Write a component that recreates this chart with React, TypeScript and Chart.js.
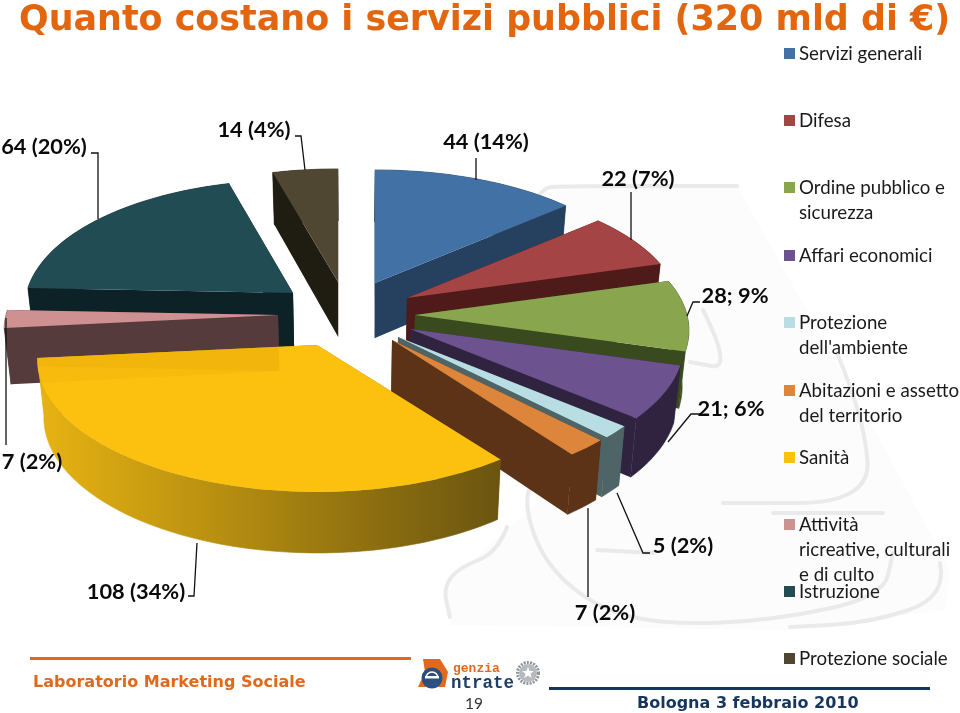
import React, { useEffect, useRef } from "react";
import { Chart, registerables } from "chart.js";

Chart.register(...registerables);

// ---- data ----
const categories = [
  "Servizi generali", "Difesa", "Ordine pubblico e sicurezza", "Affari economici",
  "Protezione dell'ambiente", "Abitazioni e assetto del territorio", "Sanità",
  "Attività ricreative, culturali e di culto", "Istruzione", "Protezione sociale",
];
const values = [44, 22, 28, 21, 5, 7, 108, 7, 64, 14];
const valueLabels = ["44 (14%)", "22 (7%)", "28; 9%", "21; 6%", "5 (2%)", "7 (2%)", "108 (34%)", "7 (2%)", "64 (20%)", "14 (4%)"];
const topColors = ["#4271A6", "#A54444", "#89A64F", "#6D5290", "#B8DEE3", "#DD853B", "#FCC10F", "#CF9092", "#224C53", "#4F4731"];
const wallColors = ["#26415F", "#4F1A1A", "#3A4A1F", "#2F2340", "#4E6466", "#5C3317", "#B08A10", "#553B3C", "#0D2226", "#1F1C11"];

// ---- layout (not data) ----
const legendLines = [
  ["Servizi generali"], ["Difesa"], ["Ordine pubblico e", "sicurezza"], ["Affari economici"],
  ["Protezione", "dell'ambiente"], ["Abitazioni e assetto", "del territorio"], ["Sanità"],
  ["Attività", "ricreative, culturali", "e di culto"], ["Istruzione"], ["Protezione sociale"],
];
const legendY = [53, 120, 187, 255, 322, 390, 457, 524, 591, 658];
const labelBoxes: [number, number][] = [
  [486, 141], [638, 178], [735, 295], [731, 408], [683, 545],
  [605, 612], [136, 591], [32, 461], [44, 146], [254, 129],
];
const apexes: [number, number, number][] = [
  [375, 283, 1], [407, 298, 1], [415, 315, 1], [410, 329, 1], [398, 337, 1],
  [392, 340, 1], [317, 345, 1.02], [278, 315, 1], [293, 293, 0.98], [338, 282, 1],
];
const drawOrder = [9, 8, 0, 7, 1, 2, 3, 4, 5, 6];
const leaders: number[][] = [
  [91, 153, 98, 153, 98, 219],
  [295, 136, 301, 136, 305, 170],
  [476, 158, 476, 180],
  [631, 192, 631, 240],
  [700, 302, 693, 302, 687, 316],
  [700, 414, 691, 414, 668, 442],
  [650, 553, 643, 553, 617, 493],
  [588, 508, 588, 597],
  [188, 596, 194, 596, 197, 543],
  [6, 318, 6, 445],
];
const watermarkStrokes: number[][] = [
  [537, 197, 545, 188, 556, 186, 737, 186],
  [703, 310, 733, 370, 690, 362],
  [837, 353, 865, 420, 870, 503, 723, 503],
  [530, 487, 523, 503, 545, 565, 600, 610, 670, 625, 775, 620, 883, 597, 893, 553],
  [773, 513, 883, 513],
  [940, 563, 947, 597, 870, 623, 790, 627],
  [507, 527, 497, 553, 460, 567, 443, 587, 450, 617],
  [597, 550, 653, 553],
];

const RX = 272, RY = 130, PX = 0.12, PY = 0.13;

function App() {
  const ref = useRef<HTMLCanvasElement>(null);
  useEffect(() => {
    document.body.style.margin = "0";
    const pie3d = {
      id: "pie3d",
      beforeDraw(chart: any) {
        const c = chart.ctx;
        c.save();
        c.fillStyle = "#FCFCFC";
        c.beginPath();
        c.moveTo(553, 186); c.lineTo(737, 186); c.lineTo(880, 440); c.lineTo(950, 570);
        c.lineTo(945, 610); c.lineTo(790, 630); c.lineTo(450, 625); c.lineTo(445, 585);
        c.lineTo(540, 500); c.closePath(); c.fill();
        c.strokeStyle = "#EAEAEA"; c.lineWidth = 4; c.lineJoin = "round"; c.lineCap = "round";
        for (const s of watermarkStrokes) {
          c.beginPath(); c.moveTo(s[0], s[1]);
          for (let i = 2; i < s.length - 2; i += 2) {
            c.quadraticCurveTo(s[i], s[i + 1], (s[i] + s[i + 2]) / 2, (s[i + 1] + s[i + 3]) / 2);
          }
          c.lineTo(s[s.length - 2], s[s.length - 1]);
          c.stroke();
        }
        c.restore();
      },
      beforeDatasetsDraw(chart: any) {
        const c = chart.ctx;
        const arcs = chart.getDatasetMeta(0).data;
        const rim = (i: number, t: number) => {
          const [ax, ay, k] = apexes[i];
          const s = Math.sin(t), co = Math.cos(t);
          return { x: ax + k * RX * s * (1 - PX * co), y: ay - RY * co * (1 - PY * co) };
        };
        const low = (p: { x: number; y: number }) => ({
          x: p.x + (350 - p.x) * 0.02,
          y: p.y + 52 + (8 * (p.y - 172)) / 283,
        });
        const shape = (i: number) => {
          const a = arcs[i];
          const t0 = a.startAngle + Math.PI / 2, t1 = a.endAngle + Math.PI / 2;
          const n = Math.max(4, Math.ceil((t1 - t0) / 0.025));
          const pts = [];
          for (let j = 0; j <= n; j++) pts.push(rim(i, t0 + ((t1 - t0) * j) / n));
          return { apex: { x: apexes[i][0], y: apexes[i][1] }, pts };
        };
        const poly = (pp: any[]) => {
          c.beginPath();
          pp.forEach((p, j) => (j ? c.lineTo(p.x, p.y) : c.moveTo(p.x, p.y)));
          c.closePath();
        };
        const walls = (i: number, fill: any) => {
          const { apex, pts } = shape(i);
          c.fillStyle = fill;
          c.strokeStyle = fill;
          c.lineWidth = 0.6;
          const la = low(apex);
          poly([apex, pts[0], low(pts[0]), la]); c.fill();
          const e = pts[pts.length - 1];
          poly([apex, e, low(e), la]); c.fill();
          poly([...pts, ...pts.slice().reverse().map(low)]); c.fill(); c.stroke();
        };
        c.save();
        for (const i of drawOrder) {
          let fill: any = wallColors[i];
          if (i === 6) {
            const g = c.createLinearGradient(45, 0, 497, 0);
            g.addColorStop(0, "#E6B212");
            g.addColorStop(0.5, "#A98410");
            g.addColorStop(1, "#6B5510");
            fill = g;
          }
          walls(i, fill);
          const { apex, pts } = shape(i);
          c.fillStyle = topColors[i];
          poly([apex, ...pts]);
          c.fill();
          if (i === 6) {
            c.save();
            c.clip();
            walls(7, "rgba(190,120,0,0.07)");
            c.restore();
          }
        }
        // leader lines
        c.strokeStyle = "#111"; c.lineWidth = 1.3; c.lineJoin = "miter";
        for (const s of leaders) {
          c.beginPath(); c.moveTo(s[0], s[1]);
          for (let i = 2; i < s.length; i += 2) c.lineTo(s[i], s[i + 1]);
          c.stroke();
        }
        // footer rules
        c.fillStyle = "#E2691C"; c.fillRect(30, 657, 381, 3);
        c.fillStyle = "#17365D"; c.fillRect(549, 687, 381, 3);
        // agency mark
        c.fillStyle = "#E2691C";
        c.beginPath(); c.moveTo(423, 659); c.lineTo(440, 659); c.lineTo(448, 672); c.lineTo(445, 687);
        c.lineTo(418, 687); c.lineTo(425, 672); c.closePath(); c.fill();
        c.fillStyle = "#2C4F7F"; c.beginPath(); c.arc(432, 678, 10.5, 0, Math.PI * 2); c.fill();
        c.fillStyle = "#FFFFFF"; c.fillRect(425, 676, 14, 2.5);
        c.strokeStyle = "#FFFFFF"; c.lineWidth = 1.5; c.beginPath(); c.arc(432, 678, 6, Math.PI, 0); c.stroke();
        // emblem
        c.strokeStyle = "#8D9499"; c.lineWidth = 3; c.setLineDash([2, 1.2]);
        c.beginPath(); c.arc(528, 673, 10.5, 0, Math.PI * 2); c.stroke(); c.setLineDash([]);
        c.fillStyle = "#B5BABD"; c.beginPath(); c.arc(528, 673, 9, 0, Math.PI * 2); c.fill();
        c.fillStyle = "#FFFFFF"; c.beginPath();
        for (let j = 0; j < 10; j++) {
          const r = j % 2 ? 2.6 : 6.2, t = (j * Math.PI) / 5 - Math.PI / 2;
          const x = 528 + r * Math.cos(t), y = 673 + r * Math.sin(t);
          j ? c.lineTo(x, y) : c.moveTo(x, y);
        }
        c.closePath(); c.fill();
        c.restore();
        return false;
      },
    };
    const chart = new Chart(ref.current as HTMLCanvasElement, {
      type: "pie",
      data: { labels: categories, datasets: [{ data: values, backgroundColor: topColors }] },
      options: {
        responsive: false,
        animation: false,
        plugins: { legend: { display: false }, tooltip: { enabled: false } },
      },
      plugins: [pie3d],
    } as any);
    return () => chart.destroy();
  }, []);

  const abs = (x: number, y: number, extra: any): any => ({
    position: "absolute", left: x, top: y, whiteSpace: "nowrap", ...extra,
  });
  const calibri = "Lato, 'Open Sans', sans-serif";
  const verdana = "'DejaVu Sans', sans-serif";
  return (
    <div style={{ position: "absolute", left: 0, top: 0, width: 960, height: 713, background: "#fff", overflow: "hidden" }}>
      <canvas ref={ref} width={960} height={713} style={{ position: "absolute", left: 0, top: 0 }} />
      <div style={abs(19, -4, { font: `bold 34.9px/44px ${verdana}`, color: "#E2660F" })}>
        Quanto costano i servizi pubblici (320 mld di €)
      </div>
      {legendLines.map((lines, i) => (
        <React.Fragment key={i}>
          <div style={abs(784, legendY[i] - 5.5, { width: 11, height: 11, background: topColors[i] })} />
          {lines.map((t, j) => (
            <div key={j} style={abs(799, legendY[i] + j * 24.8 - 12, { font: `18.7px/24px ${calibri}`, color: "#1a1a1a" })}>
              {t}
            </div>
          ))}
        </React.Fragment>
      ))}
      {valueLabels.map((t, i) => (
        <div key={i} style={abs(labelBoxes[i][0], labelBoxes[i][1] - 14, { font: `bold 21.8px/28px ${calibri}`, color: "#0a0a0a", transform: "translateX(-50%)" })}>
          {t}
        </div>
      ))}
      <div style={abs(33, 671, { font: `bold 16px/22px ${verdana}`, color: "#E2691C" })}>Laboratorio Marketing Sociale</div>
      <div style={abs(637, 692, { font: `bold 16px/22px ${verdana}`, color: "#17365D" })}>Bologna 3 febbraio 2010</div>
      <div style={abs(465, 692, { font: `15.5px/22px ${calibri}`, color: "#333" })}>19</div>
      <div style={abs(453, 661, { font: `bold 13px/16px 'Liberation Mono', monospace`, color: "#E2691C", letterSpacing: 0 })}>genzia</div>
      <div style={abs(451, 674, { font: `bold 17.5px/18px 'Liberation Mono', monospace`, color: "#1F3F66" })}>ntrate</div>
    </div>
  );
}

export default App;
